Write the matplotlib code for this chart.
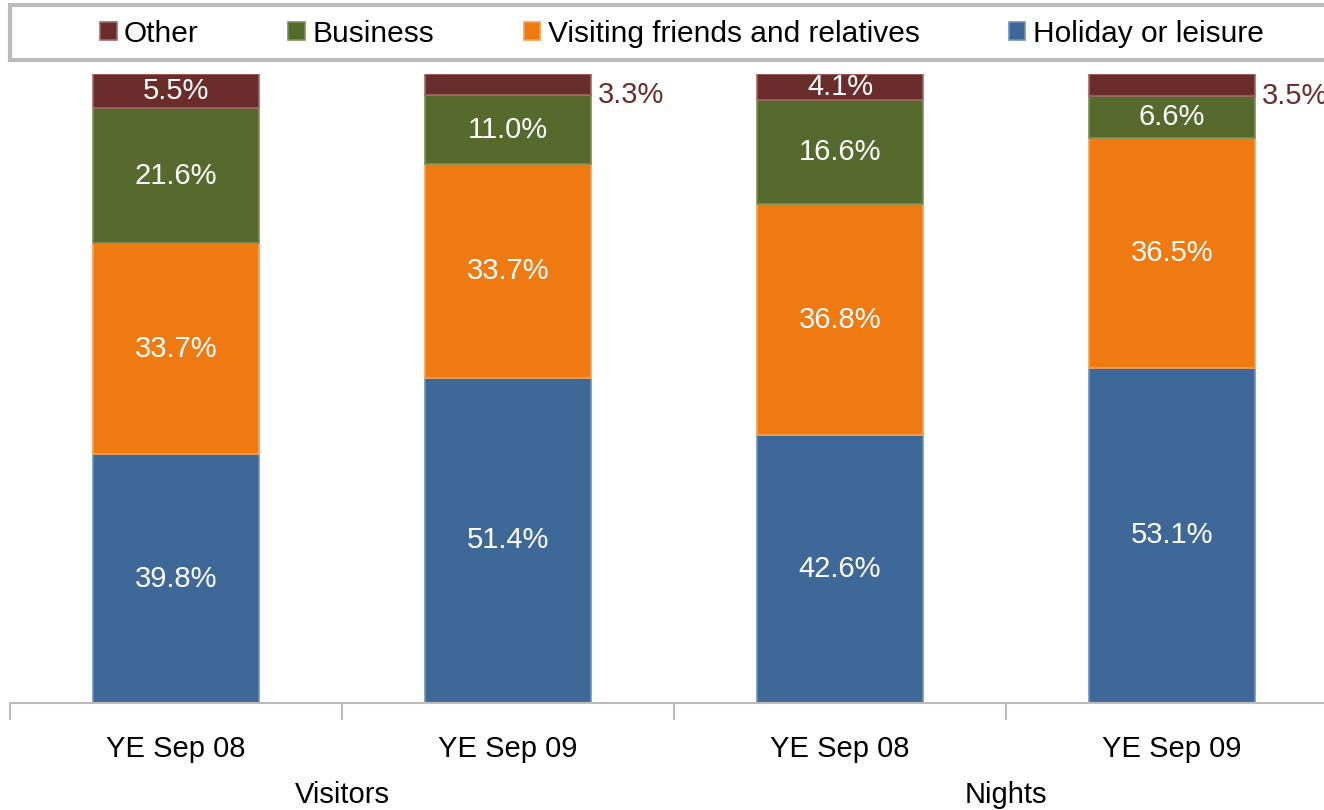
import numpy as np
import matplotlib.pyplot as plt
from matplotlib.patches import Rectangle

plt.rcParams['font.family'] = ['Liberation Sans', 'DejaVu Sans']

# bars left to right
periods = ["YE Sep 08", "YE Sep 09", "YE Sep 08", "YE Sep 09"]
groups = ["Visitors", "Nights"]

# stacked from bottom to top
series = ["Holiday or leisure", "Visiting friends and relatives", "Business", "Other"]
holiday = [39.8, 51.4, 42.6, 53.1]
vfr = [33.7, 33.7, 36.8, 36.5]
business = [21.6, 11.0, 16.6, 6.6]
other = [5.5, 3.3, 4.1, 3.5]

colors = ["#3E6897", "#F07A12", "#566A2E", "#6B2C2C"]
edges = ["#6F93C0", "#F9A050", "#7E9152", "#A06868"]

values = np.array([holiday, vfr, business, other])
# 100% stacked, like the original chart
shares = values / values.sum(axis=0)

fig = plt.figure(figsize=(13.24, 8.10), dpi=100)
ax = fig.add_axes([10 / 1324, 107 / 810, 1328 / 1324, 629 / 810])

x = np.arange(len(periods))
bottom = np.zeros(len(periods))
handles = []
for i, name in enumerate(series):
    bars = ax.bar(x, shares[i], 0.5, bottom=bottom, color=colors[i],
                  edgecolor=edges[i], linewidth=1.2, label=name)
    handles.append(bars)
    for j in range(len(x)):
        mid = bottom[j] + shares[i][j] / 2
        txt = "%.1f%%" % values[i][j]
        if i == 3 and values[i][j] < 4:
            # too thin to hold the label, put it beside the bar
            ax.text(x[j] + 0.27, bottom[j], txt,
                    ha="left", va="center", color="#6B2C2C", fontsize=21)
        else:
            ax.text(x[j], mid, txt, ha="center", va="center",
                    color="white", fontsize=21)
    bottom += shares[i]

ax.set_xlim(-0.5, 3.5)
ax.set_ylim(0, 1)
ax.set_yticks([])
for s in ["top", "right", "left"]:
    ax.spines[s].set_visible(False)
ax.spines["bottom"].set_color("#BBBBBB")
ax.spines["bottom"].set_linewidth(1.5)

ax.set_xticks(x)
ax.set_xticklabels(periods, fontsize=21)
ax.tick_params(axis="x", length=0, pad=23)
ax.set_xticks(np.arange(-0.5, 4.0, 1.0), minor=True)
ax.tick_params(axis="x", which="minor", length=12, color="#BBBBBB", width=1.5)

for k, g in enumerate(groups):
    ax.text(0.5 + 2 * k, -0.147, g, ha="center", va="center",
            fontsize=21, transform=ax.transData, clip_on=False)

# legend box runs off the right edge in the original
fig.patches.append(Rectangle((10 / 1324, 1 - 60 / 810), 1.0, 55 / 810,
                             transform=fig.transFigure, facecolor="white",
                             edgecolor="#BBBBBB", linewidth=3))
leg = fig.legend(handles[::-1], series[::-1], loc="center",
                 bbox_to_anchor=(682 / 1324, 1 - 34 / 810),
                 ncol=4, fontsize=21.5, frameon=False,
                 handlelength=0.55, handleheight=0.55,
                 handletextpad=0.25, borderaxespad=0, columnspacing=3.0)

fig.savefig("out.png", dpi=100)
